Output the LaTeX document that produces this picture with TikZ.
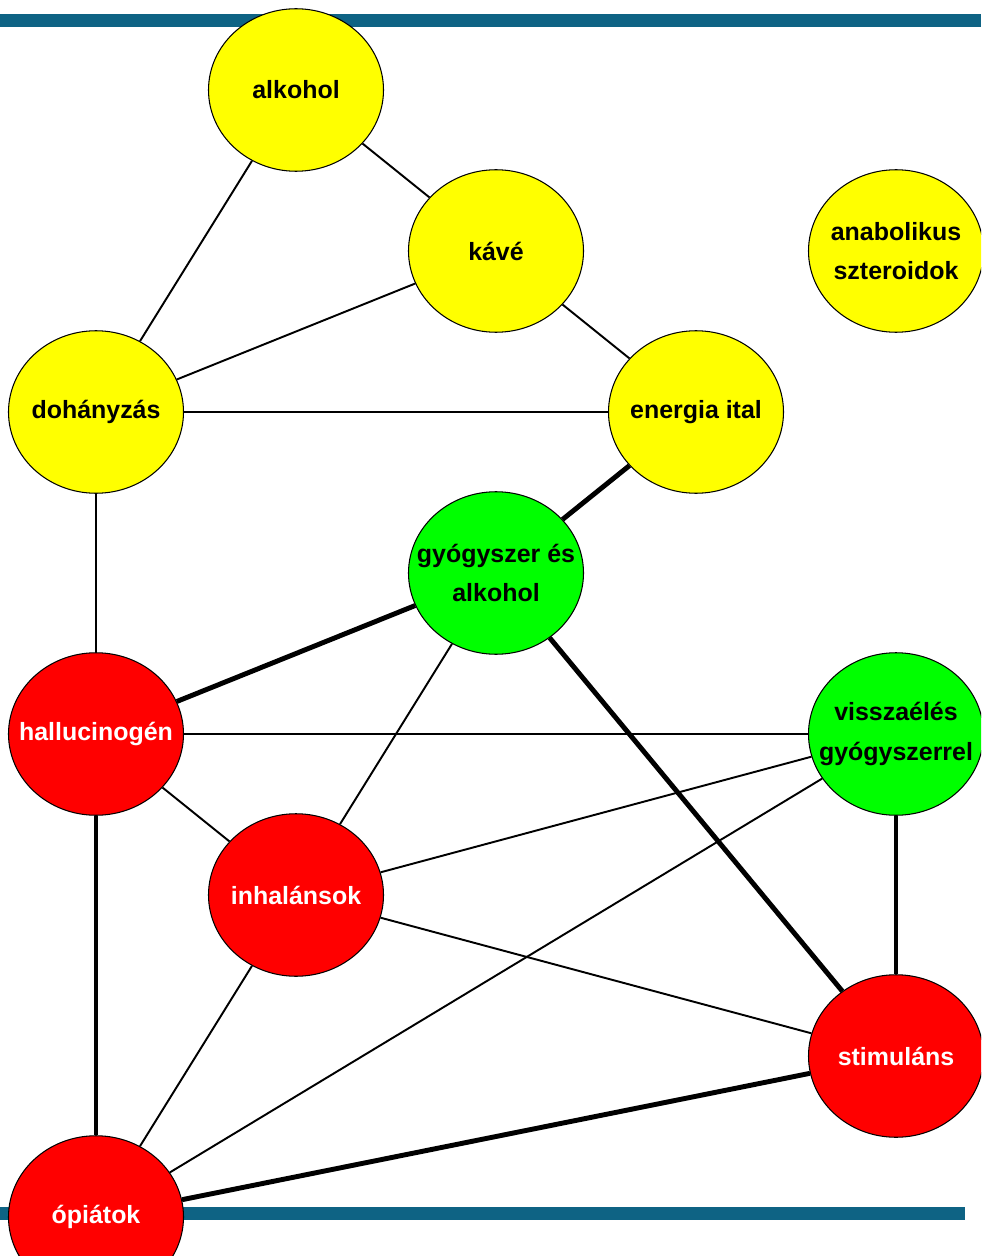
\documentclass[tikz,border=0pt]{standalone}
\usepackage{fontspec}
\setmainfont{Liberation Sans}
\usetikzlibrary{positioning, shapes.geometric}
\definecolor{savkek}{RGB}{14,99,132}
\definecolor{sarga}{RGB}{255,255,0}
\definecolor{zold}{RGB}{0,255,0}
\definecolor{piros}{RGB}{255,0,0}

\begin{document}
\begin{tikzpicture}[
    on grid,                        % Középponttól mért távolság
    node distance=3.22cm and 4cm,   % Rácstávolság
    szer/.style={ellipse, draw, line width=0.6pt, minimum width=3.5cm, minimum height=3.25cm, inner sep=0pt},
    legal/.style={szer, fill=sarga},
    vegyes/.style={szer, fill=zold},
    illegal/.style={szer, fill=piros},
    every label/.style={font=\bfseries\fontsize{14.2}{22.5}\selectfont, align=center, inner sep=0pt},
    gyenge/.style={line width=1.1pt},
    eros/.style={line width=2.8pt}
  ]
  \useasboundingbox (0,0) rectangle (19.62,-25.12);
  \clip (0,0) rectangle (19.62,-25.12);

  % --- SÁVOK ---
  \fill[savkek] (0,-0.28) rectangle (19.62,-0.54);
  \fill[savkek] (0,-24.14) rectangle (19.3,-24.40);

  % --- SZEREK ---
  \node[legal, label=center:alkohol] (alkohol) at (5.92,-1.8) {};
  \node[legal, label=center:kávé, below right=of alkohol] (kave) {};
  \node[legal, label=center:energia ital, below right=of kave] (energia) {};
  \node[legal, label={center:anabolikus\\szteroidok}, above right=of energia] (anabolikus) {};
  \node[legal, label=center:dohányzás, left=12cm of energia] (dohanyzas) {};
  \node[vegyes, label={center:gyógyszer és\\alkohol}, below left=of energia] (gyogyszer) {};
  \node[illegal, label={[text=white]center:hallucinogén}, below=6.44cm of dohanyzas] (hallucinogen) {};
  \node[vegyes, label={center:visszaélés\\gyógyszerrel}, right=16cm of hallucinogen] (visszaeles) {};
  \node[illegal, label={[text=white]center:inhalánsok}, below right=of hallucinogen] (inhalansok) {};
  \node[illegal, label={[text=white]center:stimuláns}, below=6.44cm of visszaeles] (stimulans) {};
  \node[illegal, label={[text=white]center:ópiátok}, below=9.66cm of hallucinogen] (opiatok) {};

  % --- KAPCSOLATOK ---

  % Az alkoholtól
  \path (alkohol) edge[gyenge] (kave)
                  edge[gyenge] (dohanyzas);

  % A kávétól
  \path (kave) edge[gyenge] (dohanyzas)
               edge[gyenge] (energia);

  % A dohányzástól
  \path (dohanyzas) edge[gyenge] (energia)
                    edge[gyenge] (hallucinogen);

  % Az energiaitaltól
  \path (energia) edge[eros] (gyogyszer);

  % A gyógyszer és alkoholtól
  \path (gyogyszer) edge[eros] (hallucinogen)
                    edge[gyenge] (inhalansok)
                    edge[eros] (stimulans);

  % A hallucinogéntől
  \path (hallucinogen) edge[gyenge] (visszaeles)
                       edge[gyenge] (inhalansok)
                       edge[eros] (opiatok);

  % Az inhalánsoktól
  \path (inhalansok) edge[gyenge] (visszaeles)
                     edge[gyenge] (stimulans)
                     edge[gyenge] (opiatok);

  % A visszaéléstől
  \path (visszaeles) edge[gyenge] (opiatok)
                     edge[eros] (stimulans);

  % A stimulánstól
  \path (stimulans) edge[eros] (opiatok);

\end{tikzpicture}
\end{document}
